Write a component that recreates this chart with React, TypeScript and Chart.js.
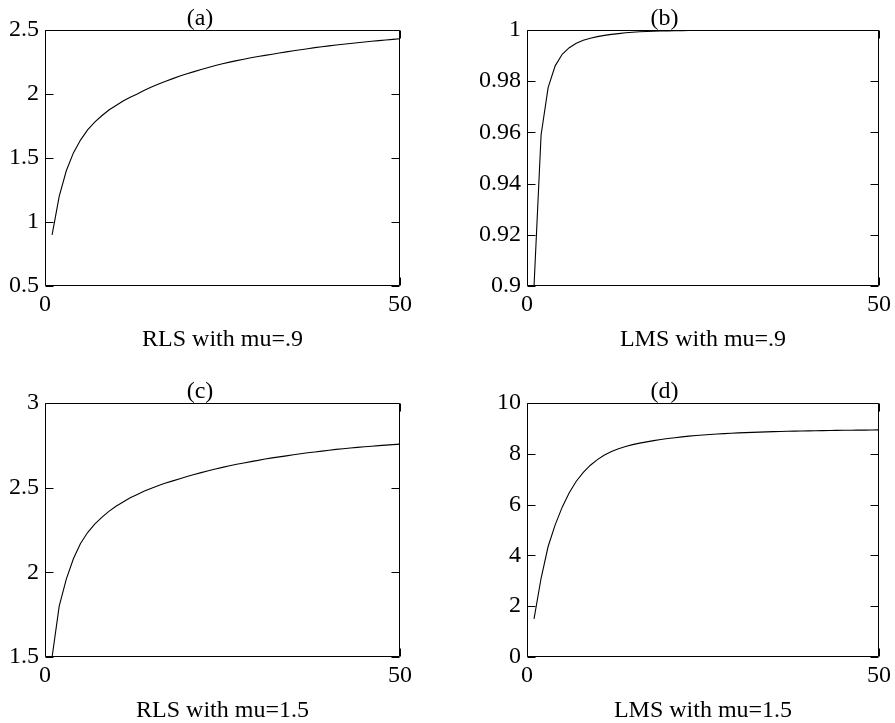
import React, { useEffect, useRef } from 'react';
import { Chart, registerables } from 'chart.js';

Chart.register(...registerables);

const iterations = [
  1, 2, 3, 4, 5, 6, 7, 8, 9, 10, 11, 12, 13, 14, 15, 16, 17, 18, 19, 20, 21, 22, 23, 24, 25,
  26, 27, 28, 29, 30, 31, 32, 33, 34, 35, 36, 37, 38, 39, 40, 41, 42, 43, 44, 45, 46, 47, 48, 49, 50,
];

const rlsMu09 = [
  0.9, 1.2, 1.4, 1.54, 1.64, 1.72, 1.78, 1.83, 1.875, 1.91,
  1.945, 1.975, 2.0, 2.03, 2.055, 2.078, 2.1, 2.12, 2.14, 2.158,
  2.175, 2.192, 2.207, 2.222, 2.236, 2.249, 2.261, 2.272, 2.283, 2.293,
  2.302, 2.311, 2.32, 2.329, 2.338, 2.346, 2.354, 2.362, 2.369, 2.376,
  2.383, 2.389, 2.395, 2.401, 2.406, 2.412, 2.417, 2.422, 2.427, 2.432,
];

const lmsMu09 = [
  0.9, 0.959, 0.9775, 0.986, 0.9905, 0.9931, 0.9948, 0.996, 0.9968, 0.9974,
  0.9979, 0.9983, 0.9986, 0.9989, 0.9991, 0.9993, 0.9994, 0.9995, 0.9996, 0.99965,
  0.9997, 0.99975, 0.9998, 0.99984, 0.99987, 0.9999, 0.99992, 0.99993, 0.99994, 0.99995,
  0.99996, 0.99997, 0.99997, 0.99998, 0.99998, 0.99998, 0.99999, 0.99999, 0.99999, 0.99999,
  1.0, 1.0, 1.0, 1.0, 1.0, 1.0, 1.0, 1.0, 1.0, 1.0,
];

const rlsMu15 = [
  1.5, 1.8, 1.96, 2.08, 2.17, 2.235, 2.285, 2.325, 2.36, 2.39,
  2.415, 2.44, 2.46, 2.48, 2.497, 2.513, 2.527, 2.54, 2.553, 2.566,
  2.578, 2.589, 2.6, 2.61, 2.62, 2.629, 2.638, 2.646, 2.654, 2.661,
  2.669, 2.676, 2.682, 2.688, 2.694, 2.7, 2.706, 2.711, 2.716, 2.721,
  2.726, 2.73, 2.734, 2.738, 2.742, 2.745, 2.748, 2.751, 2.754, 2.757,
];

const lmsMu15 = [
  1.5, 3.1, 4.35, 5.2, 5.9, 6.47, 6.92, 7.27, 7.55, 7.77,
  7.95, 8.09, 8.2, 8.29, 8.36, 8.42, 8.47, 8.52, 8.56, 8.6,
  8.635, 8.665, 8.695, 8.72, 8.74, 8.76, 8.78, 8.795, 8.81, 8.825,
  8.835, 8.845, 8.855, 8.865, 8.872, 8.879, 8.886, 8.892, 8.898, 8.903,
  8.908, 8.913, 8.917, 8.921, 8.925, 8.928, 8.931, 8.934, 8.937, 8.94,
];

const xTicks = [0, 50];
const yTicksA = [0.5, 1, 1.5, 2, 2.5];
const yTicksB = [0.9, 0.92, 0.94, 0.96, 0.98, 1];
const yTicksC = [1.5, 2, 2.5, 3];
const yTicksD = [0, 2, 4, 6, 8, 10];

const titles = ['(a)', '(b)', '(c)', '(d)'];
const xLabels = ['RLS with mu=.9', 'LMS with mu=.9', 'RLS with mu=1.5', 'LMS with mu=1.5'];

const FONT = 'Liberation Serif, Times New Roman, serif';

const framePlugin = {
  id: 'frameTicks',
  afterDraw(chart: any) {
    const { ctx, chartArea, scales } = chart;
    const l = Math.round(chartArea.left) + 0.5;
    const r = Math.round(chartArea.right) - 0.5;
    const t = Math.round(chartArea.top) + 0.5;
    const b = Math.round(chartArea.bottom) - 0.5;
    const len = 8;
    ctx.save();
    ctx.strokeStyle = '#000';
    ctx.lineWidth = 1;
    ctx.beginPath();
    ctx.rect(l, t, r - l, b - t);
    const ys = scales.y;
    ys.ticks.forEach((tk: any) => {
      const py = Math.round(ys.getPixelForValue(tk.value)) + 0.5;
      ctx.moveTo(l, py);
      ctx.lineTo(l + len, py);
      ctx.moveTo(r, py);
      ctx.lineTo(r - len, py);
    });
    const xs = scales.x;
    xs.ticks.forEach((tk: any) => {
      const px = Math.round(xs.getPixelForValue(tk.value)) + 0.5;
      ctx.moveTo(px, b);
      ctx.lineTo(px, b - len);
      ctx.moveTo(px, t);
      ctx.lineTo(px, t + len);
    });
    ctx.stroke();
    ctx.restore();
  },
};

type PanelProps = {
  left: number;
  top: number;
  width: number;
  height: number;
  yAxisWidth: number;
  rightPad: number;
  xAxisHeight: number;
  xTitlePad: number;
  values: number[];
  yTicks: number[];
  title: string;
  xLabel: string;
};

function Panel(p: PanelProps) {
  const ref = useRef<HTMLCanvasElement | null>(null);
  useEffect(() => {
    if (!ref.current) return;
    const data = iterations.map((x, i) => ({ x, y: p.values[i] }));
    const chart = new Chart(ref.current, {
      type: 'line',
      data: {
        datasets: [
          {
            data,
            borderColor: '#000',
            borderWidth: 1.1,
            pointRadius: 0,
            tension: 0,
            fill: false,
          },
        ],
      },
      options: {
        animation: false,
        responsive: false,
        devicePixelRatio: 1,
        layout: { padding: { left: 0, right: p.rightPad, top: 0, bottom: 0 } },
        plugins: {
          legend: { display: false },
          tooltip: { enabled: false },
          title: {
            display: true,
            text: p.title,
            color: '#000',
            font: { family: FONT, size: 24, weight: 'normal', lineHeight: '22px' },
            padding: { top: 8, bottom: 0 },
          },
        },
        scales: {
          x: {
            type: 'linear',
            min: 0,
            max: 50,
            grid: { display: false, drawTicks: false },
            border: { display: false },
            afterBuildTicks: (scale: any) => {
              scale.ticks = xTicks.map((v) => ({ value: v }));
            },
            afterFit: (scale: any) => {
              scale.height = p.xAxisHeight;
            },
            ticks: {
              autoSkip: false,
              maxRotation: 0,
              padding: 4,
              color: '#000',
              font: { family: FONT, size: 24, lineHeight: 1.2 },
              callback: (v: any) => String(v),
            },
            title: {
              display: true,
              text: p.xLabel,
              color: '#000',
              font: { family: FONT, size: 24, lineHeight: 1 },
              padding: { top: 0, bottom: p.xTitlePad },
            },
          },
          y: {
            type: 'linear',
            min: p.yTicks[0],
            max: p.yTicks[p.yTicks.length - 1],
            grid: { display: false, drawTicks: false },
            border: { display: false },
            afterBuildTicks: (scale: any) => {
              scale.ticks = p.yTicks.map((v) => ({ value: v }));
            },
            afterFit: (scale: any) => {
              scale.width = p.yAxisWidth;
            },
            ticks: {
              autoSkip: false,
              padding: 6,
              color: '#000',
              font: { family: FONT, size: 24, lineHeight: 1.2 },
              callback: (v: any) => String(v),
            },
          },
        },
      },
      plugins: [framePlugin],
    } as any);
    return () => chart.destroy();
  }, []);
  return (
    <div style={{ position: 'absolute', left: p.left, top: p.top, width: p.width, height: p.height }}>
      <canvas
        ref={ref}
        width={p.width}
        height={p.height}
        style={{ display: 'block', width: p.width, height: p.height }}
      />
    </div>
  );
}

export default function App() {
  return (
    <div style={{ position: 'absolute', left: 0, top: 0, width: 895, height: 723, background: '#fff' }}>
      <Panel left={0} top={0} width={447} height={361} yAxisWidth={45} rightPad={47} xAxisHeight={75} xTitlePad={9}
        values={rlsMu09} yTicks={yTicksA} title={titles[0]} xLabel={xLabels[0]} />
      <Panel left={447} top={0} width={448} height={361} yAxisWidth={80} rightPad={13} xAxisHeight={75} xTitlePad={9}
        values={lmsMu09} yTicks={yTicksB} title={titles[1]} xLabel={xLabels[1]} />
      <Panel left={0} top={373} width={447} height={350} yAxisWidth={45} rightPad={47} xAxisHeight={66} xTitlePad={0}
        values={rlsMu15} yTicks={yTicksC} title={titles[2]} xLabel={xLabels[2]} />
      <Panel left={447} top={373} width={448} height={350} yAxisWidth={80} rightPad={13} xAxisHeight={66} xTitlePad={0}
        values={lmsMu15} yTicks={yTicksD} title={titles[3]} xLabel={xLabels[3]} />
    </div>
  );
}
